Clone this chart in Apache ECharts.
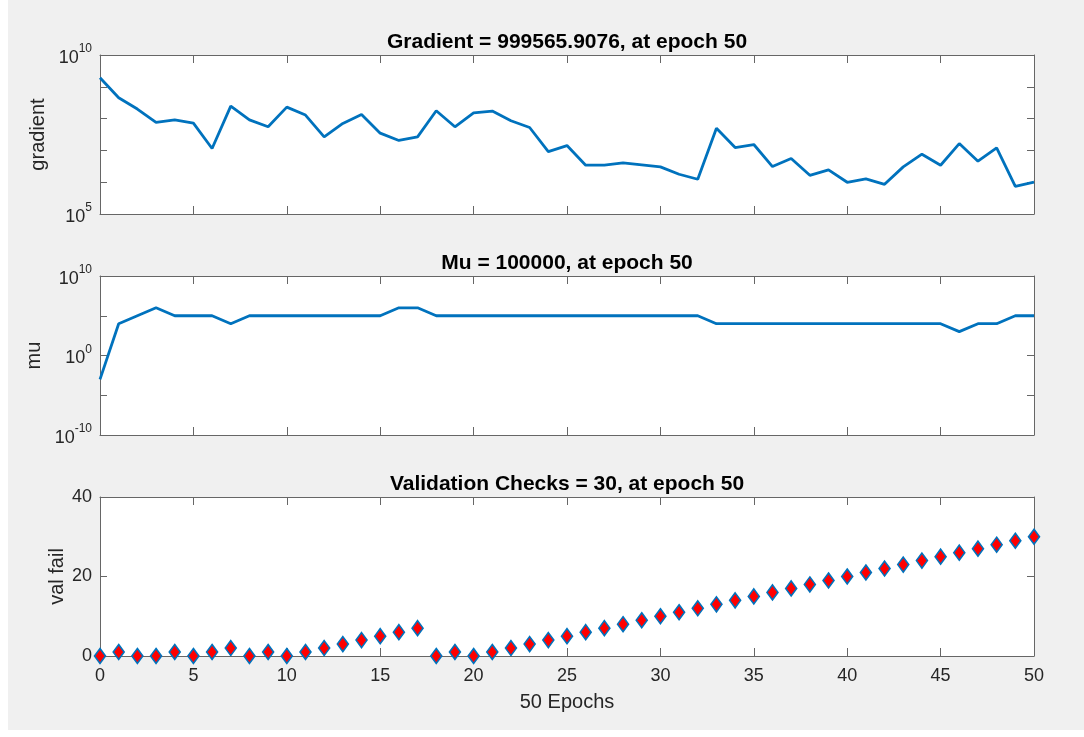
<!DOCTYPE html>
<html><head><meta charset="utf-8">
<script src="https://cdn.jsdelivr.net/npm/echarts@6/dist/echarts.min.js"></script>
<style>html,body{margin:0;padding:0;background:#fff}#c{width:1084px;height:737px}</style>
</head><body><div id="c"></div>
<script>
const epochs = [0,1,2,3,4,5,6,7,8,9,10,11,12,13,14,15,16,17,18,19,20,21,22,23,24,25,26,27,28,29,30,31,32,33,34,35,36,37,38,39,40,41,42,43,44,45,46,47,48,49,50];
const gradient = [1.93e9,4.52e8,2.0e8,7.55e7,9.1e7,7.2e7,1.15e7,2.47e8,9.1e7,5.52e7,
  2.3e8,1.29e8,2.67e7,7.03e7,1.35e8,3.48e7,2.05e7,2.67e7,1.76e8,5.52e7,
  1.52e8,1.72e8,8.53e7,5.25e7,9.2e6,1.42e7,3.42e6,3.42e6,4.05e6,3.5e6,
  3.03e6,1.78e6,1.24e6,5.0e7,1.23e7,1.53e7,3.1e6,5.55e6,1.65e6,2.44e6,
  9.95e5,1.27e6,8.6e5,3.03e6,7.6e6,3.42e6,1.64e7,4.57e6,1.2e7,7.45e5,999565.9076];
const mu = [1e-3,1e4,1e5,1e6,1e5,1e5,1e5,1e4,1e5,1e5,
  1e5,1e5,1e5,1e5,1e5,1e5,1e6,1e6,1e5,1e5,
  1e5,1e5,1e5,1e5,1e5,1e5,1e5,1e5,1e5,1e5,
  1e5,1e5,1e5,1e4,1e4,1e4,1e4,1e4,1e4,1e4,
  1e4,1e4,1e4,1e4,1e4,1e4,1e3,1e4,1e4,1e5,1e5];
const valFail = [0,1,0,0,1,0,1,2,0,1,0,1,2,3,4,5,6,7,0,1,0,1,2,3,4,5,6,7,8,9,10,11,12,13,14,15,16,17,18,19,20,21,22,23,24,25,26,27,28,29,30];
const titles = ['Gradient = 999565.9076, at epoch 50','Mu = 100000, at epoch 50','Validation Checks = 30, at epoch 50'];
const yNames = ['gradient','mu','val fail'];
const xName = '50 Epochs';
const gradExpTicks = [5,10];      // log10 range of gradient axis
const gradLabelExps = [5,10];
const muExpTicks = [-10,10];
const muLabelExps = [-10,0,10];
const valTicks = [0,40];

const FONT = '"Liberation Sans", Arial, sans-serif';
const TXT = '#262626';
const AX = '#666666';
const BLUE = '#0072BD';
const tops = [55,276,497];
const H = 159;

const chart = echarts.init(document.getElementById('c'), null, {renderer:'canvas'});

function supFmt(list){
  return function(v){ return list.indexOf(v) >= 0 ? '{b|10}{s|' + v + '}' : ''; };
}
const rich = {
  b:{fontSize:18,fontFamily:FONT,color:TXT,lineHeight:24,verticalAlign:'bottom'},
  s:{fontSize:12,fontFamily:FONT,color:TXT,lineHeight:24,verticalAlign:'top'}
};

const grids = tops.map(t => ({left:100,right:50,top:t,height:H,show:true,backgroundColor:'#fff',borderWidth:0}));
const xAxes = [];
tops.forEach((t,g) => {
  xAxes.push({gridIndex:g,type:'value',min:0,max:50,interval:5,position:'bottom',
    axisLine:{show:true,onZero:false,lineStyle:{color:AX,width:1}},
    axisTick:{show:true,inside:true,length:8,lineStyle:{color:AX}},
    axisLabel:{show:g===2,margin:11,color:TXT,fontSize:18,fontFamily:FONT},
    splitLine:{show:false},
    name:g===2?xName:'',nameLocation:'middle',nameGap:36,nameMoveOverlap:false,
    nameTextStyle:{color:TXT,fontSize:20,fontFamily:FONT}});
  xAxes.push({gridIndex:g,type:'value',min:0,max:50,interval:5,position:'top',
    axisLine:{show:true,onZero:false,lineStyle:{color:AX,width:1}},
    axisTick:{show:true,inside:true,length:8,lineStyle:{color:AX}},
    axisLabel:{show:false},splitLine:{show:false}});
});

function leftAxis(g,min,max,interval,fmt,gap){
  return {gridIndex:g,type:'value',min:min,max:max,interval:interval,position:'left',
    axisLine:{show:true,onZero:false,lineStyle:{color:AX,width:1}},
    axisTick:{show:true,inside:true,length:7,lineStyle:{color:AX}},
    axisLabel:{show:true,margin:8,color:TXT,fontSize:18,fontFamily:FONT,formatter:fmt,rich:rich},
    splitLine:{show:false},
    name:yNames[g],nameLocation:'middle',nameRotate:90,nameGap:gap,nameMoveOverlap:false,
    nameTextStyle:{color:TXT,fontSize:20,fontFamily:FONT}};
}
function rightAxis(g,min,max,interval){
  return {gridIndex:g,type:'value',min:min,max:max,interval:interval,position:'right',
    axisLine:{show:true,onZero:false,lineStyle:{color:AX,width:1}},
    axisTick:{show:true,inside:true,length:7,lineStyle:{color:AX}},
    axisLabel:{show:false},splitLine:{show:false}};
}
function logAxis(g,min,max){
  return {gridIndex:g,type:'log',logBase:10,min:min,max:max,show:false,splitLine:{show:false}};
}
const yAxes = [
  leftAxis(0,gradExpTicks[0],gradExpTicks[1],1,supFmt(gradLabelExps),52),
  rightAxis(0,gradExpTicks[0],gradExpTicks[1],1),
  logAxis(0,Math.pow(10,gradExpTicks[0]),Math.pow(10,gradExpTicks[1])),
  leftAxis(1,muExpTicks[0],muExpTicks[1],5,supFmt(muLabelExps),56),
  rightAxis(1,muExpTicks[0],muExpTicks[1],5),
  logAxis(1,Math.pow(10,muExpTicks[0]),Math.pow(10,muExpTicks[1])),
  leftAxis(2,valTicks[0],valTicks[1],20,null,33),
  rightAxis(2,valTicks[0],valTicks[1],20)
];
yAxes[6].axisLabel.formatter = undefined;

const option = {
  animation:false,
  backgroundColor:'#ffffff',
  graphic:[{type:'rect',z:-100,shape:{x:8,y:0,width:1076,height:730},style:{fill:'#f0f0f0'}}],
  title: titles.map((t,i) => ({text:t,left:567,top:tops[i]-23,textAlign:'center',padding:0,
    textStyle:{fontSize:21,fontWeight:'bold',fontFamily:FONT,color:'#000'}})),
  grid:grids,
  xAxis:xAxes,
  yAxis:yAxes,
  series:[
    {type:'line',xAxisIndex:0,yAxisIndex:2,data:epochs.map((e,i)=>[e,gradient[i]]),
     showSymbol:false,lineStyle:{color:BLUE,width:2.8},itemStyle:{color:BLUE}},
    {type:'line',xAxisIndex:2,yAxisIndex:5,data:epochs.map((e,i)=>[e,mu[i]]),
     showSymbol:false,lineStyle:{color:BLUE,width:2.8},itemStyle:{color:BLUE}},
    {type:'scatter',xAxisIndex:4,yAxisIndex:6,data:epochs.map((e,i)=>[e,valFail[i]]),
     symbol:'diamond',symbolSize:[11,15],
     itemStyle:{color:'#ff0000',borderColor:BLUE,borderWidth:1.6,opacity:1}}
  ]
};
chart.setOption(option);
</script></body></html>
